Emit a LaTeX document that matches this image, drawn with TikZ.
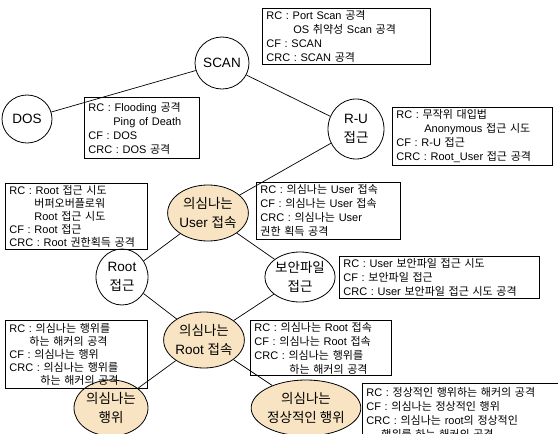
\documentclass[tikz,border=0pt]{standalone}
\usepackage{fontspec}
\setmainfont{Liberation Sans}
\newfontfamily\kof{Noto Sans CJK KR}
\newfontfamily\laf{Liberation Sans}
\usetikzlibrary{shapes.geometric}
\XeTeXinterchartokenstate=1
\count255="AC00
\loop \XeTeXcharclass\count255=7 \advance\count255 by 1 \ifnum\count255<"D7A4 \repeat
\XeTeXinterchartoks 0 7 = {\kof}
\XeTeXinterchartoks 4095 7 = {\kof}
\XeTeXinterchartoks 7 0 = {\laf}
\XeTeXinterchartoks 4095 0 = {\laf}
\definecolor{cream}{HTML}{F8E4C2}
\newcommand\ind[1]{\hspace*{#1pt}}
\frenchspacing
\begin{document}
\begin{tikzpicture}[x=1pt,y=-1pt,
  nd/.style={ellipse, draw, line width=0.8pt, inner sep=0pt, align=center,
    font=\fontsize{13.5}{19}\selectfont},
  sus/.style={nd, fill=cream},
  info/.style={draw, line width=0.8pt, anchor=north west, align=left,
    inner xsep=4pt, inner ysep=1pt, font=\fontsize{11}{14}\selectfont},
  conn/.style={line width=0.7pt}]
\useasboundingbox (0,0) rectangle (558,434);
\clip (0,0) rectangle (558,434);

% nodes
\node[nd, minimum width=54pt, minimum height=52pt] (scan) at (222,63) {SCAN};
\node[nd, minimum width=50pt, minimum height=48pt] (dos) at (27,119) {DOS};
\node[nd, minimum width=56pt, minimum height=60pt] (ru) at (356,129) {R-U\\접근};
\node[sus, minimum width=74pt, minimum height=56pt] (user) at (208,213) {의심나는\\User 접속};
\node[nd, minimum width=52pt, minimum height=56pt] (rootacc) at (122,277) {Root\\접근};
\node[nd, minimum width=64pt, minimum height=50pt] (sec) at (300,277) {보안파일\\접근};
\node[sus, minimum width=70pt, minimum height=56pt] (rootcon) at (204,340) {의심나는\\Root 접속};
\node[sus, minimum width=74pt, minimum height=56pt] (act) at (111,408) {의심나는\\행위};
\node[sus, minimum width=96pt, minimum height=56pt] (normal) at (306,408) {의심나는\\정상적인 행위};

% info boxes
\node[info, text width=160pt, minimum height=56pt] (scanbox) at (262,8)
  {RC : Port Scan 공격\\ \ind{27}OS 취약성 Scan 공격\\ CF : SCAN\\ CRC : SCAN 공격};
\node[info, text width=107pt, minimum height=61pt] (dosbox) at (84,97)
  {RC : Flooding 공격\\ \ind{25}Ping of Death\\ CF : DOS\\ CRC : DOS 공격};
\node[info, text width=152pt, minimum height=58pt] (rubox) at (392,107)
  {RC : 무작위 대입법\\ \ind{28}Anonymous 접근 시도\\ CF : R-U 접근\\ CRC : Root\_User 접근 공격};
\node[info, text width=134pt, minimum height=66pt, font=\fontsize{11}{13}\selectfont] (rootbox) at (5,183)
  {RC : Root 접근 시도\\ \ind{25}버퍼오버플로워\\ \ind{25}Root 접근 시도\\ CF : Root 접근\\ CRC : Root 권한획득 공격};
\node[info, text width=136pt, minimum height=57pt] (userbox) at (256,182)
  {RC : 의심나는 User 접속\\ CF : 의심나는 User 접속\\ CRC : 의심나는 User\\ 권한 획득 공격};
\node[info, text width=192pt, minimum height=42pt] (secbox) at (339,256)
  {RC : User 보안파일 접근 시도\\ CF : 보안파일 접근\\ CRC : User 보안파일 접근 시도 공격};
\node[info, text width=134pt, minimum height=68pt, font=\fontsize{11}{13}\selectfont] (actbox) at (5,320)
  {RC : 의심나는 행위를\\ \ind{20}하는 해커의 공격\\ CF : 의심나는 행위\\ CRC : 의심나는 행위를\\ \ind{31}하는 해커의 공격};
\node[info, text width=133pt, minimum height=55pt] (rootconbox) at (250,320)
  {RC : 의심나는 Root 접속\\ CF : 의심나는 Root 접속\\ CRC : 의심나는 행위를\\ \ind{35}하는 해커의 공격};
\node[info, text width=192pt, anchor=north west, minimum height=60pt] (normalbox) at (362,383)
  {RC : 정상적인 행위하는 해커의 공격\\ CF : 의심나는 정상적인 행위\\ CRC : 의심나는 root의 정상적인\\ \ind{15}행위를 하는 해커의 공격};

% connectors
\draw[conn] (scan) -- (dos);
\draw[conn] (scan) -- (ru);
\draw[conn] (ru) -- (user);
\draw[conn] (user) -- (rootacc);
\draw[conn] (user) -- (sec);
\draw[conn] (rootacc) -- (rootcon);
\draw[conn] (sec) -- (rootcon);
\draw[conn] (rootcon) -- (act);
\draw[conn] (rootcon) -- (normal);
\end{tikzpicture}
\end{document}
